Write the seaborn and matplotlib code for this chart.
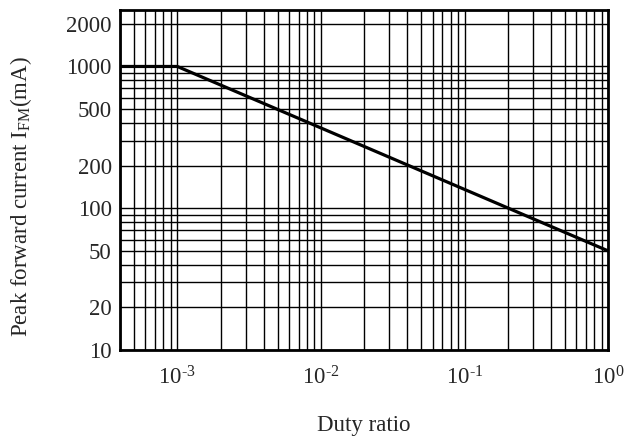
import matplotlib
matplotlib.use("Agg")
import matplotlib.pyplot as plt
import matplotlib.ticker as mticker
import seaborn as sns
import pandas as pd

# data
duty = [4e-4, 1e-3, 1.0]
current_ma = [1000, 1000, 50]
xticks = [1e-3, 1e-2, 1e-1, 1e0]
xticklabels = [r"$10^{\text{-}3}$", r"$10^{\text{-}2}$", r"$10^{\text{-}1}$", r"$10^{0}$"]
yticks = [10, 20, 50, 100, 200, 500, 1000, 2000]

sns.set_style("white")
plt.rcParams["font.family"] = ["Liberation Serif", "DejaVu Serif"]
plt.rcParams["mathtext.fontset"] = "custom"
plt.rcParams["mathtext.rm"] = "Liberation Serif"
plt.rcParams["mathtext.it"] = "Liberation Serif"

df = pd.DataFrame({"duty": duty, "current": current_ma})

fig = plt.figure(figsize=(6.29, 4.37), dpi=100)
ax = fig.add_axes([0.191, 0.199, 0.776, 0.778])

sns.lineplot(data=df, x="duty", y="current", color="black", linewidth=2.3, ax=ax, zorder=5)
ax.set_xscale("log")
ax.set_yscale("log")
ax.set_xlim(4e-4, 1.0)
ax.set_ylim(10, 2500)

ax.xaxis.set_minor_locator(mticker.LogLocator(base=10, subs=range(2, 10), numticks=20))
ax.set_xticks(xticks)
ax.set_xticklabels(xticklabels)
ax.yaxis.set_minor_locator(mticker.LogLocator(base=10, subs=range(2, 10), numticks=20))
ax.set_yticks(yticks)
ax.set_yticklabels([str(v) for v in yticks])
ax.xaxis.set_minor_formatter(mticker.NullFormatter())
ax.yaxis.set_minor_formatter(mticker.NullFormatter())

ax.grid(True, which="both", color="black", linewidth=1.0)
ax.tick_params(which="both", length=0, labelsize=16.5)
ax.tick_params(axis="x", pad=12)
ax.tick_params(axis="y", pad=6)
for s in ax.spines.values():
    s.set_color("black")
    s.set_linewidth(2)

ax.set_xlabel("Duty ratio", fontsize=16.5, labelpad=18)
ax.set_ylabel(r"Peak forward current I$_{\mathrm{FM}}$(mA)", fontsize=16.5)
ax.yaxis.set_label_coords(-0.176, 0.45)

fig.savefig("out.png", dpi=100)
